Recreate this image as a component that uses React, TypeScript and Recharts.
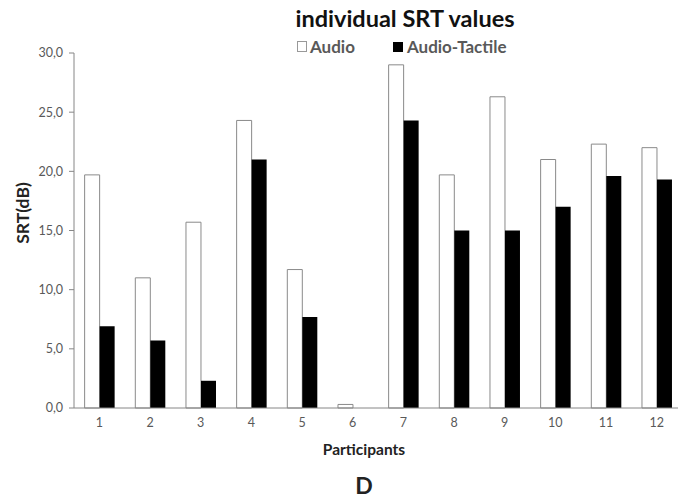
import { Bar, BarChart, XAxis, YAxis } from 'recharts'

const participants = ['1', '2', '3', '4', '5', '6', '7', '8', '9', '10', '11', '12']
const audio = [19.7, 11.0, 15.7, 24.3, 11.7, 0.3, 29.0, 19.7, 26.3, 21.0, 22.3, 22.0]
const audioTactile = [6.9, 5.7, 2.3, 21.0, 7.7, 0, 24.3, 15.0, 15.0, 17.0, 19.6, 19.3]
const yTicks = [0, 5, 10, 15, 20, 25, 30]
const boundaryTicks = [0, 1, 2, 3, 4, 5, 6, 7, 8, 9, 10, 11, 12]

const FONT = 'Lato, "Open Sans", sans-serif'
const AXIS = '#868686'
const TEXT = '#595959'

const chartData = participants.map((p, i) => ({
  participant: p,
  Audio: audio[i],
  'Audio-Tactile': audioTactile[i],
}))

export default function App() {
  return (
    <div
      style={{
        position: 'fixed',
        left: 0,
        top: 0,
        width: 678,
        height: 499,
        overflow: 'hidden',
        background: '#fff',
        fontFamily: FONT,
      }}
    >
      <div
        style={{
          position: 'absolute',
          left: 0,
          width: 810,
          top: 4,
          textAlign: 'center',
          fontSize: 23.5,
          fontWeight: 700,
          color: '#111',
        }}
      >
        individual SRT values
      </div>
      <div
        style={{
          position: 'absolute',
          left: 297,
          top: 36,
          display: 'flex',
          alignItems: 'center',
          fontSize: 17,
          fontWeight: 700,
          color: TEXT,
        }}
      >
        <span style={{ width: 8, height: 9, border: '1px solid #999', background: '#fff', marginRight: 3 }} />
        <span style={{ marginRight: 38 }}>Audio</span>
        <span style={{ width: 10, height: 10, background: '#000', marginRight: 4 }} />
        <span>Audio-Tactile</span>
      </div>
      <div
        style={{
          position: 'absolute',
          left: 22,
          top: 213,
          transform: 'translate(-50%, -50%) rotate(-90deg)',
          fontSize: 17.5,
          fontWeight: 700,
          color: '#222',
          whiteSpace: 'nowrap',
        }}
      >
        SRT(dB)
      </div>

      <BarChart
        width={690}
        height={499}
        data={chartData}
        margin={{ top: 53, right: 8, left: 0, bottom: 89 }}
        barCategoryGap="21%"
        barGap={0}
      >
        <XAxis
          dataKey="participant"
          height={1}
          axisLine={{ stroke: AXIS }}
          tickLine={false}
          tickMargin={4}
          tick={{ fill: TEXT, fontSize: 12.5, fontFamily: FONT }}
          interval={0}
        />
        <XAxis
          xAxisId="bounds"
          type="number"
          domain={[0, 12]}
          ticks={boundaryTicks}
          allowDataOverflow
          height={1}
          axisLine={false}
          tickLine={{ stroke: AXIS }}
          tickSize={5}
          tick={false}
        />
        <YAxis
          width={74}
          domain={[0, 30]}
          ticks={yTicks}
          interval={0}
          tickFormatter={(v: number) => v.toFixed(1).replace('.', ',')}
          axisLine={{ stroke: AXIS }}
          tickLine={{ stroke: AXIS }}
          tickSize={5}
          tickMargin={6}
          tick={{ fill: TEXT, fontSize: 12.5, fontFamily: FONT }}
        />
        <Bar dataKey="Audio" fill="#fff" stroke="#8a8a8a" strokeWidth={1} isAnimationActive={false} />
        <Bar dataKey="Audio-Tactile" fill="#000" isAnimationActive={false} />
      </BarChart>

      <div
        style={{
          position: 'absolute',
          left: 0,
          width: 728,
          top: 441,
          lineHeight: '16px',
          textAlign: 'center',
          fontSize: 15.5,
          fontWeight: 700,
          color: '#222',
        }}
      >
        Participants
      </div>
      <div
        style={{
          position: 'absolute',
          left: 0,
          width: 728,
          top: 474,
          lineHeight: '22px',
          textAlign: 'center',
          fontSize: 23,
          fontWeight: 700,
          color: '#222',
        }}
      >
        D
      </div>
    </div>
  )
}
